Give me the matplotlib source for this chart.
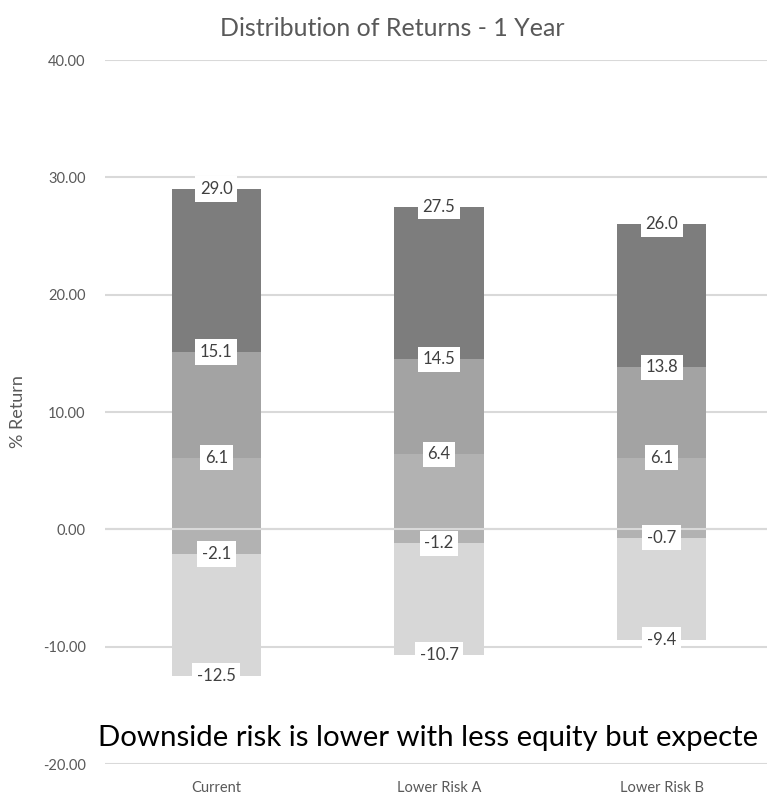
import numpy as np
import matplotlib
matplotlib.use("Agg")
import matplotlib.pyplot as plt

plt.rcParams['font.family'] = ['Lato', 'DejaVu Sans']
plt.rcParams['axes.unicode_minus'] = False

# percentiles of 1-year return (%)
categories = ["Current", "Lower Risk A", "Lower Risk B"]
p5 = np.array([-12.5, -10.7, -9.4])
p25 = np.array([-2.1, -1.2, -0.7])
p50 = np.array([6.1, 6.4, 6.1])
p75 = np.array([15.1, 14.5, 13.8])
p95 = np.array([29.0, 27.5, 26.0])

colors = ['#d7d7d7', '#b2b2b2', '#a3a3a3', '#7d7d7d']
grid_c = '#d9d9d9'
txt_c = '#595959'

fig = plt.figure(figsize=(7.67, 7.99), dpi=100)
ax = fig.add_axes([105/767, 0.0438, 668/767, 0.8811])

x = np.arange(len(categories))
w = 0.4
edges = [p5, p25, p50, p75, p95]
for i in range(4):
    ax.bar(x, edges[i+1] - edges[i], bottom=edges[i], width=w,
           color=colors[i], zorder=2)

ax.axhline(0, color=grid_c, lw=1.5, zorder=3)

for e in edges:
    for xi, v in zip(x, e):
        ax.text(xi, v, "%.1f" % v, ha='center', va='center', fontsize=12,
                color='#404040', zorder=5,
                bbox=dict(boxstyle='square,pad=0.28', fc='white', ec='none'))

ax.set_xlim(-0.5, 2.5)
ax.set_ylim(-20, 40)
ax.set_yticks(np.arange(-20, 41, 10))
ax.set_yticklabels(["%.2f" % t for t in np.arange(-20, 41, 10)])
ax.set_xticks(x)
ax.set_xticklabels(categories)
ax.yaxis.grid(True, color=grid_c, lw=1.5, zorder=0)
ax.set_axisbelow(True)
for s in ax.spines.values():
    s.set_visible(False)
ax.tick_params(axis='both', length=0, colors=txt_c, labelsize=10.5)
ax.tick_params(axis='y', pad=14)
ax.tick_params(axis='x', pad=12)
ax.set_ylabel("% Return", fontsize=13, color=txt_c, labelpad=12)

fig.text(0.512, 1 - 28/799, "Distribution of Returns - 1 Year",
         ha='center', va='center', fontsize=18, color=txt_c)
fig.text(98/767, 1 - 738/799,
         "Downside risk is lower with less equity but expecte",
         ha='left', va='center', fontsize=21.2, color='black')

fig.savefig("out.png", dpi=100)
